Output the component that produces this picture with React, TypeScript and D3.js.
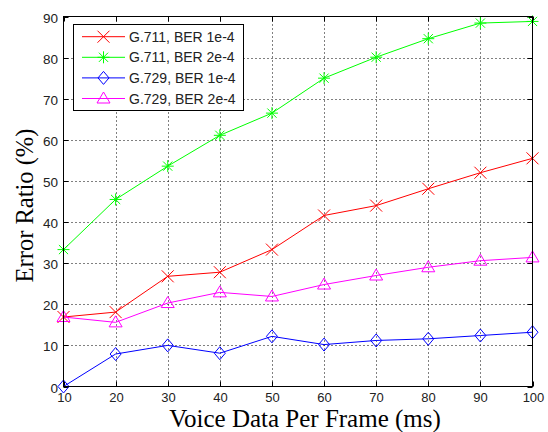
import React from "react";
import * as d3 from "d3";

const frameMs = [10, 20, 30, 40, 50, 60, 70, 80, 90, 100];
const g711Ber1 = [16.9, 18.1, 26.8, 27.8, 33.3, 41.6, 44.0, 48.1, 52.0, 55.5];
const g711Ber2 = [33.3, 45.5, 53.6, 61.1, 66.5, 75.0, 80.1, 84.6, 88.4, 88.8];
const g729Ber1 = [0.0, 7.9, 10.0, 8.1, 12.2, 10.2, 11.2, 11.6, 12.4, 13.2];
const g729Ber2 = [16.9, 15.6, 20.3, 22.9, 21.9, 24.8, 27.0, 29.0, 30.6, 31.4];
const seriesNames = ["G.711, BER 1e-4", "G.711, BER 2e-4", "G.729, BER 1e-4", "G.729, BER 2e-4"];
const xTicks = [10, 20, 30, 40, 50, 60, 70, 80, 90, 100];
const yTicks = [0, 10, 20, 30, 40, 50, 60, 70, 80, 90];

const W = 548, H = 432;
const L = 63.5, R = 532.5, T = 16.5, B = 386.5;

type MarkerKind = "x" | "star" | "diamond" | "triangle";

function Marker({ kind, x, y, color }: { kind: MarkerKind; x: number; y: number; color: string }) {
  const s = 6;
  if (kind === "x") {
    return (
      <path d={`M${x - s},${y - s}L${x + s},${y + s}M${x - s},${y + s}L${x + s},${y - s}`} stroke={color} strokeWidth={1} fill="none" />
    );
  }
  if (kind === "star") {
    const k = 4.6;
    return (
      <path
        d={`M${x - k},${y - k}L${x + k},${y + k}M${x - k},${y + k}L${x + k},${y - k}M${x - s},${y}L${x + s},${y}M${x},${y - s}L${x},${y + s}`}
        stroke={color}
        strokeWidth={1}
        fill="none"
      />
    );
  }
  if (kind === "diamond") {
    return <path d={`M${x},${y - 6.5}L${x + 5.5},${y}L${x},${y + 6.5}L${x - 5.5},${y}Z`} stroke={color} strokeWidth={1} fill="none" />;
  }
  return <path d={`M${x},${y - 6.5}L${x + 6.5},${y + 4.5}L${x - 6.5},${y + 4.5}Z`} stroke={color} strokeWidth={1} fill="none" />;
}

export default function App() {
  const x = d3.scaleLinear().domain([10, 100]).range([L, R]);
  const y = d3.scaleLinear().domain([0, 90]).range([B, T]);
  const line = d3
    .line<[number, number]>()
    .x((d) => x(d[0]))
    .y((d) => y(d[1]));

  const series = [
    { name: seriesNames[0], values: g711Ber1, color: "#ff0000", kind: "x" as MarkerKind },
    { name: seriesNames[1], values: g711Ber2, color: "#00ff00", kind: "star" as MarkerKind },
    { name: seriesNames[2], values: g729Ber1, color: "#0000ff", kind: "diamond" as MarkerKind },
    { name: seriesNames[3], values: g729Ber2, color: "#ff00ff", kind: "triangle" as MarkerKind },
  ];

  const tickFont = "Arial, 'Liberation Sans', sans-serif";
  const labelFont = "'Times New Roman', 'Liberation Serif', serif";

  const legX = 73.5, legY = 24.5, legW = 170, legH = 86;
  const rowY = [36.7, 57.3, 77.9, 98.5];

  return (
    <svg width={W} height={H} style={{ position: "absolute", left: 0, top: 0, background: "#fff" }}>
      <rect x={0} y={0} width={W} height={H} fill="#fff" />
      {/* grid */}
      {xTicks.slice(1, -1).map((t) => (
        <line key={"gx" + t} x1={Math.round(x(t)) + 0.5} x2={Math.round(x(t)) + 0.5} y1={T} y2={B} stroke="#000" strokeWidth={1} strokeDasharray="1,3" />
      ))}
      {yTicks.slice(1, -1).map((t) => (
        <line key={"gy" + t} x1={L} x2={R} y1={Math.round(y(t)) + 0.5} y2={Math.round(y(t)) + 0.5} stroke="#000" strokeWidth={1} strokeDasharray="1,3" />
      ))}
      {/* ticks */}
      {xTicks.map((t) => {
        const px = Math.round(x(t)) + 0.5;
        return (
          <g key={"tx" + t}>
            <line x1={px} x2={px} y1={B} y2={B - 5} stroke="#000" />
            <line x1={px} x2={px} y1={T} y2={T + 5} stroke="#000" />
            <text x={px} y={402} textAnchor="middle" fontFamily={tickFont} fontSize={13} fill="#222">
              {t}
            </text>
          </g>
        );
      })}
      {yTicks.map((t) => {
        const py = Math.round(y(t)) + 0.5;
        return (
          <g key={"ty" + t}>
            <line x1={L} x2={L + 5} y1={py} y2={py} stroke="#000" />
            <line x1={R} x2={R - 5} y1={py} y2={py} stroke="#000" />
            <text x={58} y={py + 5} textAnchor="end" fontFamily={tickFont} fontSize={13.5} fill="#222">
              {t}
            </text>
          </g>
        );
      })}
      {/* series */}
      {series.map((s) => (
        <g key={s.name}>
          <path d={line(frameMs.map((f, i) => [f, s.values[i]] as [number, number])) || ""} stroke={s.color} strokeWidth={1} fill="none" />
          {frameMs.map((f, i) => (
            <Marker key={f} kind={s.kind} x={x(f)} y={y(s.values[i])} color={s.color} />
          ))}
        </g>
      ))}
      {/* box */}
      <rect x={L} y={T} width={R - L} height={B - T} fill="none" stroke="#000" strokeWidth={1} />
      {/* legend */}
      <rect x={legX} y={legY} width={legW} height={legH} fill="#fff" stroke="#000" strokeWidth={1} />
      {series.map((s, i) => (
        <g key={"leg" + s.name}>
          <line x1={82} x2={125} y1={rowY[i]} y2={rowY[i]} stroke={s.color} strokeWidth={1} />
          <Marker kind={s.kind} x={103.5} y={rowY[i]} color={s.color} />
          <text x={129} y={rowY[i] + 5} fontFamily={tickFont} fontSize={14} fill="#222">
            {s.name}
          </text>
        </g>
      ))}
      {/* axis labels */}
      <text x={305} y={427} textAnchor="middle" fontFamily={labelFont} fontSize={25} fill="#000">
        Voice Data Per Frame (ms)
      </text>
      <text transform={`translate(33,${(T + B) / 2 + 4}) rotate(-90)`} textAnchor="middle" fontFamily={labelFont} fontSize={24.5} fill="#000">
        Error Ratio (%)
      </text>
    </svg>
  );
}
